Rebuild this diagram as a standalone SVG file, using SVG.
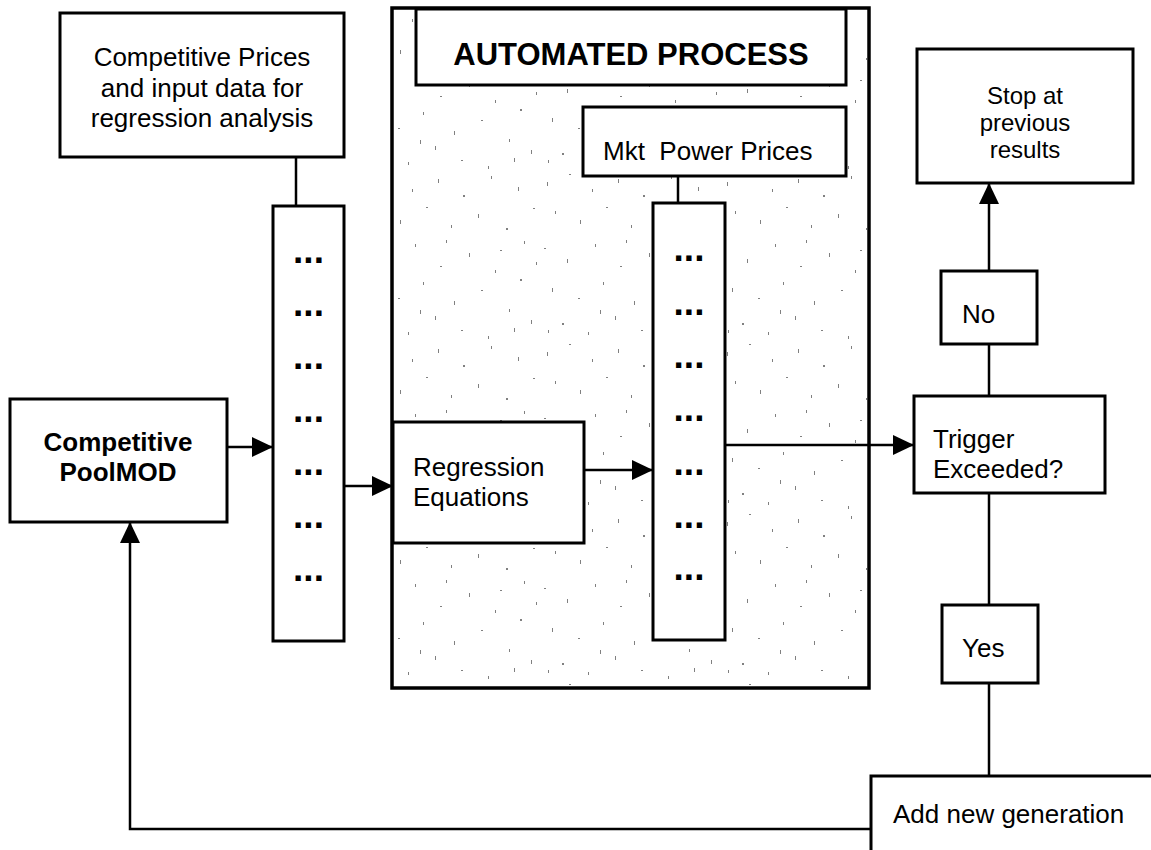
<svg xmlns="http://www.w3.org/2000/svg" width="1151" height="850" viewBox="0 0 1151 850">
  <style>
    .box { fill: #fff; stroke: #000; stroke-width: 3; }
    .col { fill: #fff; stroke: #000; stroke-width: 3; }
    .line { fill: none; stroke: #000; stroke-width: 2.5; }
    .t { font-family: "Liberation Sans", Arial, sans-serif; font-size: 26px; fill: #000; }
    .b { font-weight: bold; }
    .c { text-anchor: middle; }
    .dots { font-family: "Liberation Sans", Arial, sans-serif; font-weight: bold; font-size: 37px; text-anchor: middle; fill: #000; }
  </style>
  <defs>
    <marker id="arrow" viewBox="0 0 21 20" refX="21" refY="10" markerWidth="21" markerHeight="20" markerUnits="userSpaceOnUse" orient="auto">
      <path d="M0,0 L21,10 L0,20 Z" fill="#000"/>
    </marker>
    <!-- scattered grey specks for the automated-process panel -->
    <pattern id="speck" width="180" height="170" patternUnits="userSpaceOnUse">
      <g fill="#808080">
        <rect x="7" y="12" width="1" height="4"/>
        <rect x="29" y="4" width="2" height="1"/>
        <rect x="52" y="19" width="1" height="3"/>
        <rect x="78" y="9" width="1" height="4"/>
        <rect x="103" y="25" width="2" height="2"/>
        <rect x="131" y="6" width="1" height="3"/>
        <rect x="158" y="17" width="1" height="4"/>
        <rect x="173" y="38" width="2" height="1"/>
        <rect x="15" y="41" width="1" height="3"/>
        <rect x="40" y="50" width="1" height="4"/>
        <rect x="66" y="37" width="2" height="1"/>
        <rect x="91" y="55" width="1" height="3"/>
        <rect x="118" y="44" width="1" height="4"/>
        <rect x="146" y="58" width="2" height="2"/>
        <rect x="164" y="71" width="1" height="3"/>
        <rect x="4" y="78" width="2" height="1"/>
        <rect x="27" y="89" width="1" height="4"/>
        <rect x="55" y="74" width="1" height="3"/>
        <rect x="80" y="96" width="2" height="1"/>
        <rect x="109" y="83" width="1" height="4"/>
        <rect x="135" y="100" width="1" height="3"/>
        <rect x="160" y="109" width="2" height="2"/>
        <rect x="176" y="92" width="1" height="3"/>
        <rect x="12" y="118" width="1" height="4"/>
        <rect x="38" y="128" width="2" height="1"/>
        <rect x="63" y="112" width="1" height="3"/>
        <rect x="94" y="131" width="1" height="4"/>
        <rect x="121" y="120" width="2" height="1"/>
        <rect x="149" y="139" width="1" height="3"/>
        <rect x="171" y="150" width="1" height="4"/>
        <rect x="22" y="153" width="2" height="2"/>
        <rect x="48" y="162" width="1" height="3"/>
        <rect x="75" y="146" width="1" height="4"/>
        <rect x="101" y="160" width="2" height="1"/>
        <rect x="128" y="166" width="1" height="3"/>
        <rect x="154" y="158" width="1" height="4"/>
        <rect x="86" y="70" width="1" height="3"/>
        <rect x="140" y="80" width="2" height="1"/>
        <rect x="60" y="140" width="1" height="4"/>
        <rect x="8" y="160" width="1" height="3"/>
      </g>
    </pattern>
  </defs>

  <!-- automated-process panel -->
  <g id="automated-process">
    <rect x="392" y="8" width="477" height="680" fill="#fff" stroke="#000" stroke-width="3.5"/>
    <rect x="394" y="10" width="473" height="676" fill="url(#speck)"/>
  </g>

  <!-- connectors -->
  <g id="connectors">
    <line class="line" x1="296" y1="157" x2="296" y2="206"/>
    <line class="line" x1="678" y1="176" x2="678" y2="203"/>
    <line class="line" x1="227" y1="447" x2="273" y2="447" marker-end="url(#arrow)"/>
    <line class="line" x1="344" y1="486" x2="393" y2="486" marker-end="url(#arrow)"/>
    <line class="line" x1="584" y1="470" x2="653" y2="470" marker-end="url(#arrow)"/>
    <line class="line" x1="725" y1="445" x2="914" y2="445" marker-end="url(#arrow)"/>
    <line class="line" x1="989" y1="396" x2="989" y2="344"/>
    <line class="line" x1="989" y1="271" x2="989" y2="183" marker-end="url(#arrow)"/>
    <line class="line" x1="989" y1="493" x2="989" y2="605"/>
    <line class="line" x1="989" y1="683" x2="989" y2="776"/>
    <polyline class="line" points="871,829 130,829 130,522" marker-end="url(#arrow)"/>
  </g>

  <g id="input-data">
    <rect class="box" x="60" y="13" width="284" height="144"/>
    <text class="t c" x="202" y="66">Competitive Prices</text>
    <text class="t c" x="202" y="97">and input data for</text>
    <text class="t c" x="202" y="127">regression analysis</text>
  </g>

  <g id="poolmod">
    <rect class="box" x="10" y="399" width="217" height="123"/>
    <text class="t b c" x="118" y="451">Competitive</text>
    <text class="t b c" x="118" y="481">PoolMOD</text>
  </g>

  <g id="competitive-prices-column">
    <rect class="col" x="273" y="206" width="71" height="435"/>
    <text class="dots" x="308.5" y="263">...</text>
    <text class="dots" x="308.5" y="316">...</text>
    <text class="dots" x="308.5" y="369">...</text>
    <text class="dots" x="308.5" y="422">...</text>
    <text class="dots" x="308.5" y="475">...</text>
    <text class="dots" x="308.5" y="528">...</text>
    <text class="dots" x="308.5" y="581">...</text>
  </g>

  <g id="title">
    <rect class="box" x="416" y="9" width="430" height="76"/>
    <text class="t b c" x="631" y="65" style="font-size:31px">AUTOMATED PROCESS</text>
  </g>

  <g id="mkt-power-prices">
    <rect class="box" x="583" y="107" width="263" height="69"/>
    <text class="t" x="603" y="160" xml:space="preserve">Mkt  Power Prices</text>
  </g>

  <g id="regression-equations">
    <rect class="box" x="393" y="422" width="191" height="121"/>
    <text class="t" x="413" y="476">Regression</text>
    <text class="t" x="413" y="506">Equations</text>
  </g>

  <g id="mkt-power-column">
    <rect class="col" x="653" y="203" width="72" height="437"/>
    <text class="dots" x="689" y="261">...</text>
    <text class="dots" x="689" y="315">...</text>
    <text class="dots" x="689" y="368">...</text>
    <text class="dots" x="689" y="421">...</text>
    <text class="dots" x="689" y="475">...</text>
    <text class="dots" x="689" y="528">...</text>
    <text class="dots" x="689" y="580">...</text>
  </g>

  <g id="trigger">
    <rect class="box" x="914" y="396" width="191" height="97"/>
    <text class="t" x="933" y="448">Trigger</text>
    <text class="t" x="933" y="478">Exceeded?</text>
  </g>

  <g id="stop">
    <rect class="box" x="917" y="49" width="216" height="134"/>
    <text class="t c" x="1025" y="104" style="font-size:24px">Stop at</text>
    <text class="t c" x="1025" y="131" style="font-size:24px">previous</text>
    <text class="t c" x="1025" y="158" style="font-size:24px">results</text>
  </g>

  <g id="no">
    <rect class="box" x="941" y="271" width="96" height="73"/>
    <text class="t" x="962" y="323">No</text>
  </g>

  <g id="yes">
    <rect class="box" x="942" y="605" width="96" height="78"/>
    <text class="t" x="962" y="657">Yes</text>
  </g>

  <g id="add-generation">
    <rect class="box" x="871" y="776" width="300" height="100"/>
    <text class="t" x="893" y="823">Add new generation</text>
  </g>
</svg>
